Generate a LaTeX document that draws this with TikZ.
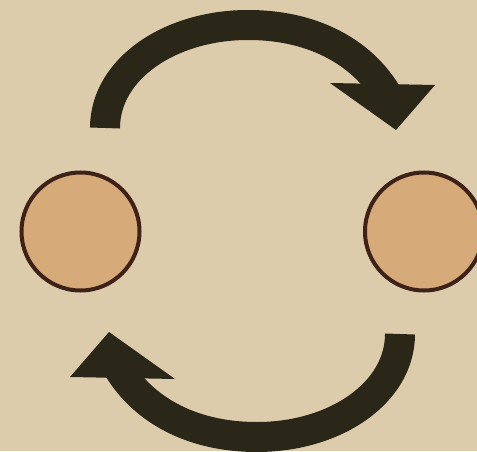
\documentclass[tikz,border=0pt]{standalone}
\usepackage{tikz}
\definecolor{paper}{RGB}{220,204,171}
\definecolor{discfill}{RGB}{215,170,122}
\definecolor{discedge}{RGB}{62,34,24}
\definecolor{arrowink}{RGB}{42,38,24}
\tikzset{
  disc/.style={circle, draw=discedge, fill=discfill, line width=4pt,
    minimum size=118pt, inner sep=0pt},
  shaft/.style={arrowink, line width=30pt, line cap=butt}
}

\begin{document}
\begin{tikzpicture}[x=1pt, y=1pt]

  \useasboundingbox (0,0) rectangle (477,451);
  \clip (0,0) rectangle (477,451);

  % Paper
  \fill[paper] (0,0) rectangle (477,451);

  % Discs
  \node[disc] (leftdisc) at (80.5,219.5) {};
  \node[disc] (rightdisc) at (424,219.5) {};

  % Upper arrow (left to right)
  \coordinate (upstart) at (105,323);
  \coordinate (uptop) at (248,426);
  \coordinate (upend) at (388,355);
  \draw[shaft] (upstart) .. controls (105,382) and (170,426)
    .. (uptop) .. controls (318,426) and (365,395) .. (upend);
  \fill[arrowink] (330,368) -- (435,366) -- (396,321) -- cycle;

  % Lower arrow (right to left)
  \coordinate (lowstart) at (400,117);
  \coordinate (lowbottom) at (257,14);
  \coordinate (lowend) at (117,85);
  \draw[shaft] (lowstart) .. controls (400,58) and (335,14)
    .. (lowbottom) .. controls (187,14) and (140,45) .. (lowend);
  \fill[arrowink] (175,72) -- (70,74) -- (109,119) -- cycle;

\end{tikzpicture}
\end{document}
